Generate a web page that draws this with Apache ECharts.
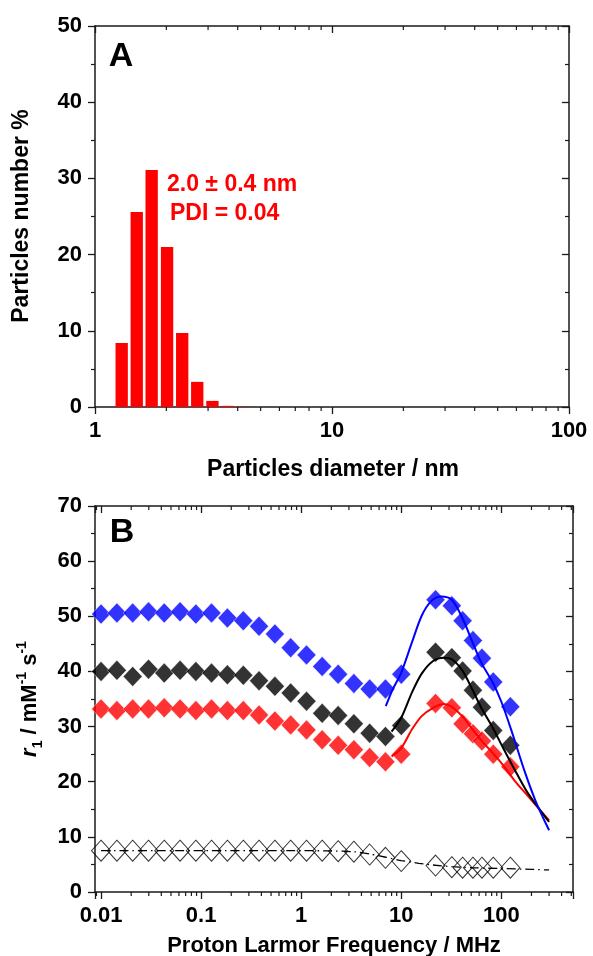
<!DOCTYPE html>
<html><head><meta charset="utf-8">
<script src="https://cdn.jsdelivr.net/npm/echarts@6/dist/echarts.min.js"></script>
<style>html,body{margin:0;padding:0;background:#fff}#c{width:593px;height:956px}</style>
</head><body><div id="c"></div>
<script>
// ---------- Panel A data ----------
const diameterBins = [1.296, 1.50, 1.734, 2.014, 2.333, 2.70, 3.13, 3.62, 4.20];
const numberPercent = [8.4, 25.6, 31.1, 21.0, 9.7, 3.3, 0.8, 0.15, 0.05];
const annotationA = ['2.0 ± 0.4 nm', 'PDI = 0.04'];
const minorTicksA = [2, 3, 4, 5, 6, 7, 8, 9, 20, 30, 40, 50, 60, 70, 80, 90];

// ---------- Panel B data ----------
const freqLow = [0.01, 0.0144, 0.0207, 0.0298, 0.0428, 0.0616, 0.0886, 0.127, 0.183, 0.264,
                 0.379, 0.546, 0.785, 1.13, 1.62, 2.34, 3.36, 4.83, 6.95, 10];
const freqHigh = [22, 32, 41, 52, 64, 83, 123];
const r1Blue = [50.4, 50.6, 50.6, 50.8, 50.6, 50.8, 50.4, 50.6, 49.7, 49.2,
                48.2, 46.8, 44.3, 43.0, 40.9, 39.5, 37.8, 36.8, 36.8, 39.5,
                53.0, 51.9, 49.2, 45.6, 42.4, 38.1, 33.6];
const r1Black = [40.0, 40.2, 39.1, 40.4, 39.7, 40.2, 40.0, 39.7, 39.4, 39.3,
                 38.3, 37.3, 36.1, 34.6, 32.4, 32.0, 30.5, 28.8, 28.2, 30.2,
                 43.5, 42.5, 40.1, 36.6, 33.5, 29.3, 26.6];
const r1Red = [33.2, 32.9, 33.2, 33.2, 33.4, 33.2, 32.9, 33.2, 32.9, 32.9,
               32.1, 31.0, 30.3, 29.4, 27.6, 26.6, 25.8, 24.4, 23.6, 25.0,
               34.2, 33.4, 30.5, 28.7, 27.4, 25.0, 22.7];
const r1Open = [7.5, 7.5, 7.5, 7.5, 7.5, 7.5, 7.5, 7.5, 7.5, 7.5,
                7.5, 7.5, 7.5, 7.5, 7.5, 7.4, 7.3, 6.8, 6.2, 5.6,
                4.8, 4.5, 4.4, 4.4, 4.4, 4.4, 4.4];
const minorTicksB = [0.009, 0.02, 0.03, 0.04, 0.05, 0.06, 0.07, 0.08, 0.09,
                     0.2, 0.3, 0.4, 0.5, 0.6, 0.7, 0.8, 0.9,
                     2, 3, 4, 5, 6, 7, 8, 9, 20, 30, 40, 50, 60, 70, 80, 90,
                     200, 300, 400, 500];

const fitBlueFreq = [7.0, 8.2, 10, 12.8, 16, 20, 25, 32, 41, 51, 63, 82, 100, 125, 170, 220, 300];
const fitBlueVal  = [33.7, 36.7, 39.8, 45.3, 50.1, 52.8, 53.6, 53.0, 49.6, 45.5, 41.6, 38.0, 34.5, 29.5, 22.0, 16.5, 11.2];
const fitBlackFreq = [8.0, 10, 12.8, 16, 20.8, 26.6, 32, 41, 51, 63, 82, 103, 133, 180, 245, 300];
const fitBlackVal  = [29.1, 31.6, 36.2, 39.6, 41.9, 42.5, 42.2, 40.1, 36.8, 33.4, 29.8, 26.3, 22.5, 18.2, 14.8, 12.7];
const fitRedFreq = [8.0, 10, 12.8, 16, 20.8, 26.6, 32, 41, 51, 63, 82, 103, 133, 180, 245, 300];
const fitRedVal  = [24.6, 26.1, 29.5, 31.9, 33.4, 34.1, 33.6, 31.8, 29.6, 27.5, 25.2, 23.1, 20.4, 17.6, 14.8, 13.0];
const fitOpenFreq = [0.01, 0.1, 1, 2, 3.4, 5, 7, 10, 15, 22, 32, 50, 100, 200, 300];
const fitOpenVal  = [7.5, 7.5, 7.5, 7.45, 7.3, 6.85, 6.3, 5.7, 5.2, 4.85, 4.6, 4.4, 4.25, 4.1, 4.0];

// ---------- helpers ----------
const FONT = "'Liberation Sans', Arial, sans-serif";
const BLUE = '#0000ff', RED = '#ff0000', BLACK = '#000000';
const AXC = '#1a1a1a';
const pair = (xs, ys) => xs.map((x, i) => [x, ys[i]]);
const allFreq = freqLow.concat(freqHigh);
const BAR_HALF = Math.pow(10, 0.026);

function pow10Label(v) {
  const l = Math.log10(v);
  return Math.abs(l - Math.round(l)) < 1e-6 ? String(Number(v.toPrecision(1))) : '';
}
const labelStyle = { color: '#000', fontFamily: FONT, fontWeight: 'bold', fontSize: 22 };

function xAxisLog(grid, pos, min, max) {
  const isBottom = pos === 'bottom';
  return {
    type: 'log', logBase: 10, gridIndex: grid, position: pos, min: min, max: max,
    axisLine: { show: true, onZero: false, lineStyle: { color: AXC, width: 1.5 } },
    axisTick: { show: true, inside: !isBottom, length: 7, lineStyle: { color: AXC, width: 1.3 } },
    minorTick: { show: false },
    axisLabel: Object.assign({ show: isBottom, margin: 13, formatter: pow10Label }, labelStyle),
    splitLine: { show: false }
  };
}
function yAxisLin(grid, pos, max) {
  const isLeft = pos === 'left';
  return {
    type: 'value', gridIndex: grid, position: pos, min: 0, max: max, interval: 10,
    axisLine: { show: true, onZero: false, lineStyle: { color: AXC, width: 1.5 } },
    axisTick: { show: true, inside: !isLeft, length: 7, lineStyle: { color: AXC, width: 1.3 } },
    minorTick: { show: true, splitNumber: 2, length: 4, lineStyle: { color: AXC, width: 1.2 } },
    axisLabel: Object.assign({ show: isLeft, margin: 13 }, labelStyle),
    splitLine: { show: false }
  };
}

// minor ticks of the log axes, placed through the axis scale
const logMinorTicks = (xi, yi, values) => ({
  type: 'custom', xAxisIndex: xi, yAxisIndex: yi, silent: true, z: 1, clip: false,
  data: values.map(v => [v, 0]), encode: { x: 0, y: 1 },
  renderItem: function (params, api) {
    const x = api.coord([api.value(0), 0])[0];
    const cs = params.coordSys;
    const st = { stroke: AXC, lineWidth: 1.2 };
    return { type: 'group', children: [
      { type: 'line', shape: { x1: x, y1: cs.y + cs.height, x2: x, y2: cs.y + cs.height + 4 }, style: st },
      { type: 'line', shape: { x1: x, y1: cs.y, x2: x, y2: cs.y + 4 }, style: st }
    ] };
  }
});

const chart = echarts.init(document.getElementById('c'), null, { renderer: 'canvas' });

const solidDiamond = (name, color, ys) => ({
  name: name, type: 'scatter', xAxisIndex: 2, yAxisIndex: 2,
  symbol: 'diamond', symbolSize: [19, 20],
  itemStyle: { color: color, borderColor: '#ffffff', borderWidth: 0.5 },
  data: pair(allFreq, ys), z: 3
});
const fitLine = (name, color, xs, ys, extra) => Object.assign({
  name: name, type: 'line', xAxisIndex: 2, yAxisIndex: 2,
  showSymbol: false, symbol: 'none', smooth: 0.3,
  lineStyle: { color: color, width: 2 },
  data: pair(xs, ys), z: 4
}, extra || {});

chart.setOption({
  animation: false,
  backgroundColor: '#ffffff',
  grid: [
    { left: 95, top: 26, width: 474, height: 381 },
    { left: 95, top: 506, width: 478, height: 386 }
  ],
  xAxis: [
    xAxisLog(0, 'bottom', 1, 100),
    xAxisLog(0, 'top', 1, 100),
    xAxisLog(1, 'bottom', 0.0087, 520),
    xAxisLog(1, 'top', 0.0087, 520)
  ],
  yAxis: [
    yAxisLin(0, 'left', 50),
    yAxisLin(0, 'right', 50),
    yAxisLin(1, 'left', 70),
    yAxisLin(1, 'right', 70)
  ],
  series: [
    logMinorTicks(0, 0, minorTicksA),
    logMinorTicks(2, 2, minorTicksB),
    {
      name: 'size', type: 'custom', xAxisIndex: 0, yAxisIndex: 0,
      data: pair(diameterBins, numberPercent),
      encode: { x: 0, y: 1 },
      renderItem: function (params, api) {
        const c = api.value(0), v = api.value(1);
        const p0 = api.coord([c / BAR_HALF, v]);
        const p1 = api.coord([c * BAR_HALF, 0]);
        return {
          type: 'rect',
          shape: { x: p0[0], y: p0[1], width: p1[0] - p0[0], height: p1[1] - p0[1] },
          style: { fill: RED }
        };
      }
    },
    {
      name: 'open', type: 'scatter', xAxisIndex: 2, yAxisIndex: 2,
      symbol: 'diamond', symbolSize: [19, 21],
      itemStyle: { color: 'rgba(0,0,0,0)', borderColor: '#000', borderWidth: 1 },
      data: pair(allFreq, r1Open), z: 3
    },
    fitLine('openFit', BLACK, fitOpenFreq, fitOpenVal, { smooth: 0.2, lineStyle: { color: '#000', width: 1.3, type: [9, 4, 1.5, 4] } }),
    solidDiamond('red', RED, r1Red),
    solidDiamond('black', BLACK, r1Black),
    solidDiamond('blue', BLUE, r1Blue),
    fitLine('redFit', RED, fitRedFreq, fitRedVal),
    fitLine('blackFit', BLACK, fitBlackFreq, fitBlackVal),
    fitLine('blueFit', BLUE, fitBlueFreq, fitBlueVal)
  ],
  graphic: [
    { type: 'text', x: 121, y: 57, style: { text: 'A', font: 'bold 34px ' + FONT, fill: '#000', align: 'center', verticalAlign: 'middle' } },
    { type: 'text', x: 122, y: 533, style: { text: 'B', font: 'bold 34px ' + FONT, fill: '#000', align: 'center', verticalAlign: 'middle' } },
    { type: 'text', x: 167, y: 185, style: { text: annotationA[0], font: 'bold 23px ' + FONT, fill: RED, align: 'left', verticalAlign: 'middle' } },
    { type: 'text', x: 170, y: 214, style: { text: annotationA[1], font: 'bold 23px ' + FONT, fill: RED, align: 'left', verticalAlign: 'middle' } },
    { type: 'text', x: 22, y: 216, rotation: Math.PI / 2, style: { text: 'Particles number %', font: 'bold 23px ' + FONT, fill: '#000', align: 'center', verticalAlign: 'middle' } },
    { type: 'text', x: 333, y: 470, style: { text: 'Particles diameter / nm', font: 'bold 23px ' + FONT, fill: '#000', align: 'center', verticalAlign: 'middle' } },
    { type: 'text', x: 334, y: 946, style: { text: 'Proton Larmor Frequency / MHz', font: 'bold 22px ' + FONT, fill: '#000', align: 'center', verticalAlign: 'middle' } },
    {
      type: 'text', x: 30, y: 699, rotation: Math.PI / 2,
      style: {
        text: '{i|r}{sub|1}{n| / mM}{sup|-1}{n| s}{sup|-1}',
        align: 'center', verticalAlign: 'middle', fill: '#000',
        rich: {
          i: { fontFamily: FONT, fontWeight: 'bold', fontStyle: 'italic', fontSize: 22, lineHeight: 30, verticalAlign: 'middle', fill: '#000' },
          n: { fontFamily: FONT, fontWeight: 'bold', fontSize: 22, lineHeight: 30, verticalAlign: 'middle', fill: '#000' },
          sup: { fontFamily: FONT, fontWeight: 'bold', fontSize: 14, lineHeight: 30, verticalAlign: 'top', fill: '#000' },
          sub: { fontFamily: FONT, fontWeight: 'bold', fontSize: 14, lineHeight: 30, verticalAlign: 'bottom', fill: '#000' }
        }
      }
    }
  ]
});
</script>
</body></html>
